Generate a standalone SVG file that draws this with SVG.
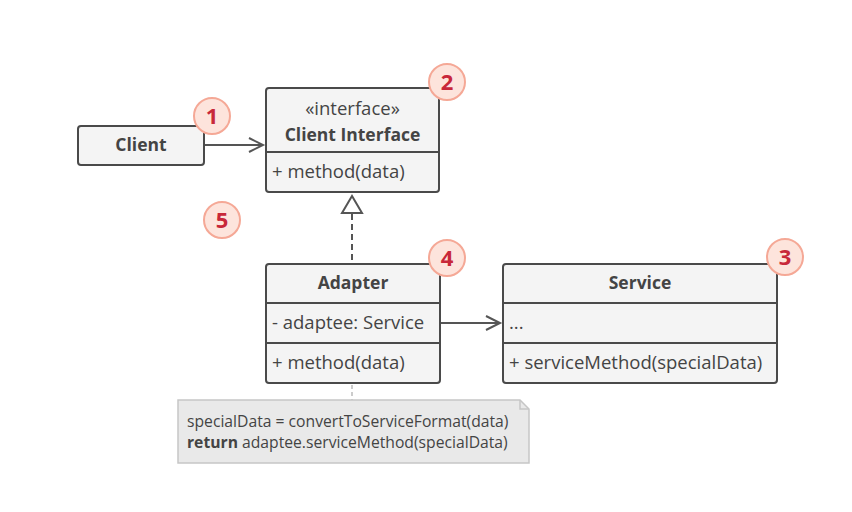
<svg xmlns="http://www.w3.org/2000/svg" width="852" height="512" viewBox="0 0 852 512">
<style>
.box{fill:#f4f4f4;stroke:#4a4a4a;stroke-width:2}
.t{font-family:"Open Sans","Noto Sans",sans-serif;font-size:18.5px;fill:#444}
.b{font-weight:bold;font-size:17.5px}
.badge circle{fill:#fde4dc;stroke:#f5a896;stroke-width:2}
.badge text{font-family:"Open Sans","Noto Sans",sans-serif;font-size:22px;font-weight:bold;fill:#c8283a;text-anchor:middle}
.conn{stroke:#555;stroke-width:2;fill:none}
.note{fill:#e9e9e9;stroke:#c6c6c6;stroke-width:1.5}
.nt{font-family:"Open Sans","Noto Sans",sans-serif;font-size:15.7px;fill:#444}
</style>
<rect width="852" height="512" fill="#fff"/>
<g id="connectors">
<line class="conn" x1="204" y1="145" x2="262" y2="145"/>
<polyline class="conn" points="249,138 263,145 249,152"/>
<line class="conn" x1="352" y1="214" x2="352" y2="263" stroke-dasharray="6,4"/>
<polygon points="352,196 342,213 362,213" fill="#fff" stroke="#555" stroke-width="2"/>
<line class="conn" x1="440" y1="323" x2="499" y2="323"/>
<polyline class="conn" points="486,316 500,323 486,330"/>
<line x1="352" y1="385" x2="352" y2="400" stroke="#ccc" stroke-width="2" stroke-dasharray="4,3"/>
</g>
<g id="client">
<rect class="box" x="78" y="126" width="126" height="39" rx="3"/>
<text class="t b" x="141" y="151" text-anchor="middle">Client</text>
</g>
<g id="client-interface">
<rect class="box" x="266" y="88" width="173" height="104" rx="3"/>
<line x1="266" y1="152" x2="439" y2="152" stroke="#4a4a4a" stroke-width="2"/>
<text class="t" x="352.5" y="115" text-anchor="middle">«interface»</text>
<text class="t b" x="352.5" y="141" text-anchor="middle">Client Interface</text>
<text class="t" x="272" y="178">+ method(data)</text>
</g>
<g id="adapter">
<rect class="box" x="266" y="264" width="174" height="119" rx="3"/>
<line x1="266" y1="303" x2="440" y2="303" stroke="#4a4a4a" stroke-width="2"/>
<line x1="266" y1="343" x2="440" y2="343" stroke="#4a4a4a" stroke-width="2"/>
<text class="t b" x="353" y="289" text-anchor="middle">Adapter</text>
<text class="t" x="272" y="329">- adaptee: Service</text>
<text class="t" x="272" y="369">+ method(data)</text>
</g>
<g id="service">
<rect class="box" x="503" y="264" width="274" height="119" rx="3"/>
<line x1="503" y1="303" x2="777" y2="303" stroke="#4a4a4a" stroke-width="2"/>
<line x1="503" y1="343" x2="777" y2="343" stroke="#4a4a4a" stroke-width="2"/>
<text class="t b" x="640" y="289" text-anchor="middle">Service</text>
<text class="t" x="509" y="329">...</text>
<text class="t" x="509" y="369">+ serviceMethod(specialData)</text>
</g>
<g id="note">
<path class="note" d="M178,400 H520 L529,409 V463 H178 Z"/>
<path d="M520,400 V409 H529" fill="none" stroke="#c6c6c6" stroke-width="1.5"/>
<text class="nt" x="187" y="427">specialData = convertToServiceFormat(data)</text>
<text class="nt" x="187" y="448"><tspan font-weight="bold">return</tspan> adaptee.serviceMethod(specialData)</text>
</g>
<g id="badge1" class="badge"><circle cx="212" cy="116" r="18"/><text x="212" y="124">1</text></g>
<g id="badge2" class="badge"><circle cx="447" cy="82" r="18"/><text x="447" y="90">2</text></g>
<g id="badge3" class="badge"><circle cx="785" cy="257" r="18"/><text x="785" y="265">3</text></g>
<g id="badge4" class="badge"><circle cx="447" cy="258" r="18"/><text x="447" y="266">4</text></g>
<g id="badge5" class="badge"><circle cx="222" cy="220" r="18"/><text x="222" y="228">5</text></g>
</svg>
